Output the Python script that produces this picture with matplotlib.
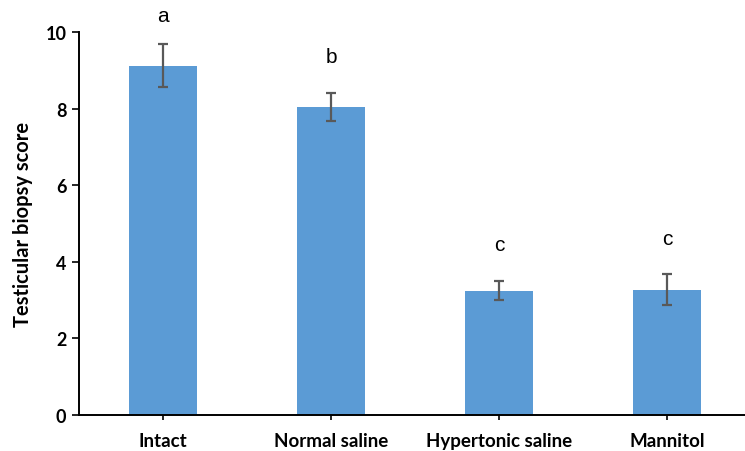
import matplotlib
matplotlib.use("Agg")
import matplotlib.pyplot as plt
import numpy as np

categories = ["Intact", "Normal saline", "Hypertonic saline", "Mannitol"]
means = [9.12, 8.04, 3.24, 3.27]
errors = [0.56, 0.37, 0.25, 0.41]
letters = ["a", "b", "c", "c"]
letter_y = [10.44, 9.37, 4.44, 4.61]
yticks = [0, 2, 4, 6, 8, 10]

plt.rcParams['font.family'] = ['Lato', 'DejaVu Sans']

fig = plt.figure(figsize=(7.45, 4.52), dpi=100)
ax = fig.add_axes([79/745, 1-416/452, (751-79)/745, (416-33)/452])

x = np.arange(len(categories))
ax.bar(x, means, width=0.40, color="#5B9BD5", zorder=2)
ax.errorbar(x, means, yerr=errors, fmt='none', ecolor="#595959",
            elinewidth=1.6, capsize=3.5, capthick=1.6, zorder=3)
for xi, t, ly in zip(x, letters, letter_y):
    ax.text(xi, ly, t, ha='center', va='center', fontsize=15,
            family=['Liberation Sans', 'DejaVu Sans'], color='black')

ax.set_xlim(-0.5, 3.5)
ax.set_ylim(0, 10)
ax.set_yticks(yticks)
ax.set_yticklabels([str(v) for v in yticks], fontsize=13, fontweight='bold')
ax.set_xticks(x)
ax.set_xticklabels(categories, fontsize=13.5, fontweight='bold')
ax.set_ylabel("Testicular biopsy score", fontsize=14.5, fontweight='bold', labelpad=9)

for s in ['top', 'right']:
    ax.spines[s].set_visible(False)
for s in ['left', 'bottom']:
    ax.spines[s].set_linewidth(1.4)
    ax.spines[s].set_color('black')
ax.tick_params(axis='y', direction='out', length=5, width=1.2, pad=4)
ax.tick_params(axis='x', direction='out', length=3.6, width=1.2, pad=8.5)

fig.savefig("out.png", dpi=100)
